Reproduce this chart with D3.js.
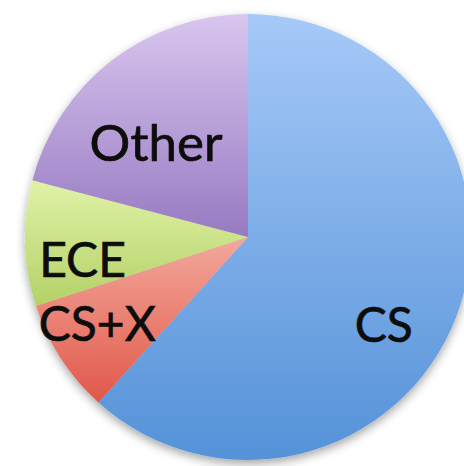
<!DOCTYPE html>
<html>
<head>
<meta charset="utf-8">
<script src="https://cdn.jsdelivr.net/npm/d3@7"></script>
<style>
  html, body { margin: 0; padding: 0; background: #fff; }
  svg text { font-family: Lato, "Open Sans", sans-serif; fill: #0d0d0d; stroke: #0d0d0d; stroke-width: 0.7px; }
</style>
</head>
<body>
<svg id="chart" width="464" height="466"></svg>
<script>
// slices, clockwise from 12 o'clock
var categories = ["CS", "CS+X", "ECE", "Other"];
var shares = [61.7, 8.3, 9.1, 20.9];

// light (top) / dark (bottom) colour of each slice
var topColors = ["#a6c9f8", "#f3a89c", "#e0f2a8", "#d9c6ef"];
var bottomColors = ["#5592d8", "#e0584a", "#b4d166", "#977ac2"];

// small nudges so labels sit where the original put them
var labelNudge = [[-14, 30], [-16, 0], [-5, 18], [6, 34]];

var svg = d3.select("#chart"),
    cx = 248,
    cy = 237,
    radius = 223;

var defs = svg.append("defs");

var shadow = defs.append("filter")
    .attr("id", "shadow")
    .attr("x", "-10%").attr("y", "-10%")
    .attr("width", "120%").attr("height", "125%");
shadow.append("feDropShadow")
    .attr("dx", 0).attr("dy", 4)
    .attr("stdDeviation", 5)
    .attr("flood-color", "#000")
    .attr("flood-opacity", 0.35);

categories.forEach(function(c, i) {
    var g = defs.append("linearGradient")
        .attr("id", "grad" + i)
        .attr("x1", 0).attr("y1", 0)
        .attr("x2", 0).attr("y2", 1);
    g.append("stop").attr("offset", "0%").attr("stop-color", topColors[i]);
    g.append("stop").attr("offset", "100%").attr("stop-color", bottomColors[i]);
});

var data = categories.map(function(c, i) {
    return { name: c, value: shares[i], index: i };
});

var pie = d3.pie()
    .sort(null)
    .value(function(d) { return d.value; });

var arc = d3.arc()
    .innerRadius(0)
    .outerRadius(radius);

var labelArc = d3.arc()
    .innerRadius(radius * 0.72)
    .outerRadius(radius * 0.72);

var arcs = pie(data);

var root = svg.append("g")
    .attr("transform", "translate(" + cx + "," + cy + ")");

root.append("g")
    .attr("filter", "url(#shadow)")
    .selectAll("path")
    .data(arcs)
    .enter().append("path")
        .attr("d", arc)
        .attr("fill", function(d) { return "url(#grad" + d.data.index + ")"; });

root.append("g")
    .selectAll("text")
    .data(arcs)
    .enter().append("text")
        .attr("x", function(d) { return labelArc.centroid(d)[0] + labelNudge[d.data.index][0]; })
        .attr("y", function(d) { return labelArc.centroid(d)[1] + labelNudge[d.data.index][1] + 17; })
        .attr("text-anchor", "middle")
        .attr("font-size", function(d) { return d.data.name === "Other" ? 51 : 48; })
        .text(function(d) { return d.data.name; });
</script>
</body>
</html>
